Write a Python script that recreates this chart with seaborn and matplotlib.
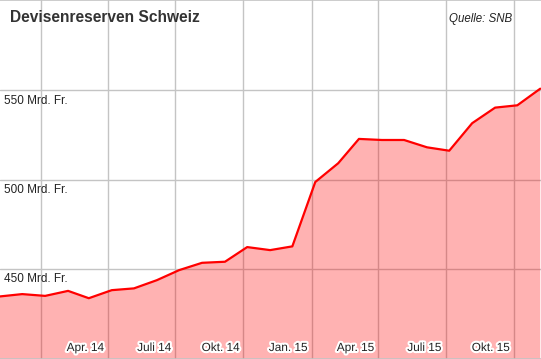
import numpy as np
import pandas as pd
import matplotlib
matplotlib.use("Agg")
import matplotlib.pyplot as plt
import matplotlib.patheffects as pe
import matplotlib.dates as mdates
import seaborn as sns

# Devisenreserven (Mrd. Fr.), monthly, Nov 2013 - Nov 2015
months = ["2013-11", "2013-12", "2014-01", "2014-02", "2014-03", "2014-04", "2014-05",
          "2014-06", "2014-07", "2014-08", "2014-09", "2014-10", "2014-11", "2014-12",
          "2015-01", "2015-02", "2015-03", "2015-04", "2015-05", "2015-06", "2015-07",
          "2015-08", "2015-09", "2015-10", "2015-11"]
reserves = [434.6, 435.9, 434.9, 437.7, 433.6, 438.1, 439.1, 443.7, 449.3, 453.4,
            454.0, 462.2, 460.5, 462.6, 498.6, 509.1, 522.7, 522.1, 522.1, 518.0,
            516.1, 531.5, 540.2, 541.5, 550.8]

quarter_dates = ["2014-01-01", "2014-04-01", "2014-07-01", "2014-10-01",
                 "2015-01-01", "2015-04-01", "2015-07-01", "2015-10-01"]
quarter_labels = ["", "Apr. 14", "Juli 14", "Okt. 14", "Jan. 15", "Apr. 15", "Juli 15", "Okt. 15"]

y_grid = [450, 500, 550]
y_labels = ["450 Mrd. Fr.", "500 Mrd. Fr.", "550 Mrd. Fr."]

df = pd.DataFrame({"date": pd.to_datetime(months) + pd.Timedelta(days=5),
                   "value": reserves})
qd = pd.to_datetime(quarter_dates)

sns.set_style("white")
plt.rcParams["font.family"] = ["Liberation Sans", "DejaVu Sans"]

fig = plt.figure(figsize=(5.41, 3.59), dpi=100)
ax = fig.add_axes([0, 0, 1, 1])

# grid behind the fill
for d in qd:
    ax.axvline(d, color="#c4c4c4", lw=1, zorder=0)
for v in y_grid:
    ax.axhline(v, color="#c4c4c4", lw=1, zorder=0)

ax.fill_between(df["date"], df["value"], 300, color="red", alpha=0.3, lw=0, zorder=1)
sns.lineplot(data=df, x="date", y="value", ax=ax, color="#ff0000", linewidth=1.6,
             zorder=2, solid_joinstyle="round")

ax.set_xlim(df["date"].iloc[0], df["date"].iloc[-1] + pd.Timedelta(days=1))
ax.set_ylim(399.6, 600.4)
ax.set_xticks([])
ax.set_yticks([])
ax.set_xlabel("")
ax.set_ylabel("")
for s in ["left", "right"]:
    ax.spines[s].set_visible(False)
for s in ["top", "bottom"]:
    ax.spines[s].set_color("#c4c4c4")
    ax.spines[s].set_linewidth(1.2)

for v, lab in zip(y_grid, y_labels):
    ax.annotate(lab, xy=(0, v), xycoords=ax.get_yaxis_transform(), xytext=(4.5, -10.5),
                textcoords="offset pixels", ha="left", va="center", fontsize=8.5,
                color="#222222", zorder=3)

halo = [pe.withStroke(linewidth=3, foreground="white")]
for d, lab in zip(qd, quarter_labels):
    if lab:
        ax.annotate(lab, xy=(mdates.date2num(d), 0), xycoords=ax.get_xaxis_transform(),
                    xytext=(-4, 11), textcoords="offset pixels", ha="right", va="center",
                    fontsize=8.5, color="#222222", path_effects=halo, zorder=3)

ax.annotate("Devisenreserven Schweiz", xy=(0, 1), xycoords="axes fraction",
            xytext=(10, -18), textcoords="offset pixels", ha="left", va="center",
            fontsize=11.2, fontweight="bold", color="#333333")
ax.annotate("Quelle: SNB", xy=(1, 1), xycoords="axes fraction",
            xytext=(-29, -19), textcoords="offset pixels", ha="right", va="center",
            fontsize=8.3, fontstyle="italic", color="#222222")

fig.savefig("out.png", dpi=100)
